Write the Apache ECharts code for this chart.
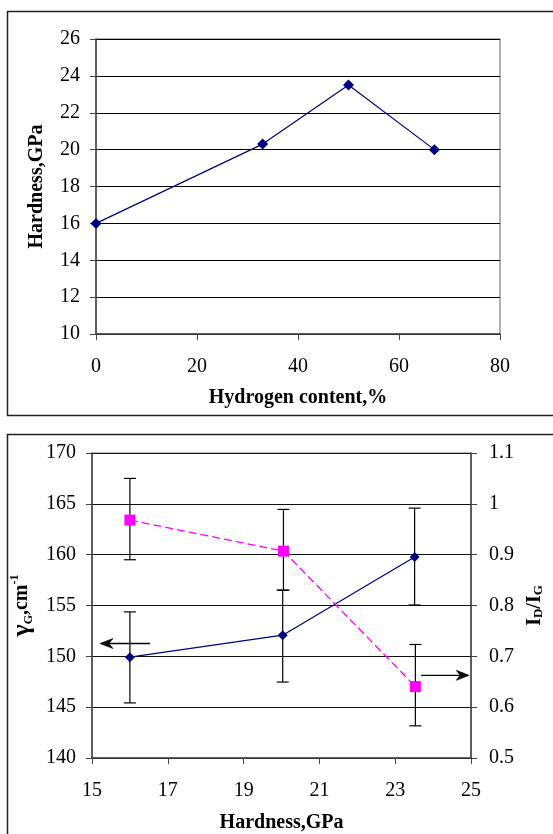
<!DOCTYPE html>
<html>
<head>
<meta charset="utf-8">
<script src="https://cdn.jsdelivr.net/npm/echarts@6/dist/echarts.min.js"></script>
<style>
html,body{margin:0;padding:0;background:#fff;}
#chart{width:553px;height:834px;}
</style>
</head>
<body>
<div id="chart"></div>
<script>
// ---- Top chart data ----
const hydrogenContent = [0, 33, 50, 67];
const hardnessTop = [16, 20.3, 23.5, 20];
const topXTicks = [0, 20, 40, 60, 80];
const topYTicks = [10, 12, 14, 16, 18, 20, 22, 24, 26];

// ---- Bottom chart data ----
const hardnessGamma = [16, 20.03, 23.51];
const gammaG = [149.92, 152.08, 159.76];
const gammaLow = [145.42, 147.47, 155.05];
const gammaHigh = [154.37, 156.52, 164.58];

const hardnessRatio = [16, 20.05, 23.53];
const idig = [0.968, 0.907, 0.6405];
const idigLow = [0.890, 0.830, 0.5633];
const idigHigh = [1.050, 0.989, 0.7233];

const bottomXTicks = [15, 17, 19, 21, 23, 25];
const leftYTicks = [140, 145, 150, 155, 160, 165, 170];
const rightYTicks = [0.5, 0.6, 0.7, 0.8, 0.9, 1, 1.1];

// annotation arrows [xStart(tail), xEnd(head), y]
const leftArrow = [16.53, 15.21, 151.26];
const rightArrow = [23.68, 24.95, 0.6626];

const FONT = 'Liberation Serif';
const chart = echarts.init(document.getElementById('chart'));

function errData(xs, lo, hi) { return xs.map((x, i) => [x, lo[i], hi[i]]); }

function errRender(params, api) {
  const x = api.value(0);
  const p1 = api.coord([x, api.value(1)]);
  const p2 = api.coord([x, api.value(2)]);
  const w = 6;
  const st = { stroke: '#000', lineWidth: 1.2 };
  return {
    type: 'group',
    children: [
      { type: 'line', shape: { x1: p1[0], y1: p1[1], x2: p2[0], y2: p2[1] }, style: st },
      { type: 'line', shape: { x1: p1[0] - w, y1: p1[1], x2: p1[0] + w, y2: p1[1] }, style: st },
      { type: 'line', shape: { x1: p2[0] - w, y1: p2[1], x2: p2[0] + w, y2: p2[1] }, style: st }
    ]
  };
}

function arrowRender(params, api) {
  const y = api.value(2);
  const a = api.coord([api.value(0), y]);
  const b = api.coord([api.value(1), y]);
  const dir = b[0] > a[0] ? 1 : -1;
  const L = 13, H = 5, N = 9;
  return {
    type: 'group',
    children: [
      { type: 'line', shape: { x1: a[0], y1: a[1], x2: b[0] - dir * 4, y2: b[1] }, style: { stroke: '#000', lineWidth: 1.4 } },
      { type: 'polygon', shape: { points: [[b[0], b[1]], [b[0] - dir * L, b[1] - H], [b[0] - dir * N, b[1]], [b[0] - dir * L, b[1] + H]] }, style: { fill: '#000', stroke: '#000', lineWidth: 0.6 } }
    ]
  };
}

const tickLabel = { fontFamily: FONT, fontSize: 20, color: '#000' };
const axisTitle = { fontFamily: FONT, fontSize: 20, fontWeight: 'bold', color: '#000' };

const option = {
  animation: false,
  backgroundColor: '#fff',
  graphic: [
    { type: 'rect', shape: { x: 7.5, y: 11.5, width: 600, height: 404 }, style: { fill: 'none', stroke: '#222', lineWidth: 1.5 }, z: 0 },
    { type: 'rect', shape: { x: 7.5, y: 434.5, width: 600, height: 500 }, style: { fill: 'none', stroke: '#222', lineWidth: 1.5 }, z: 0 }
  ],
  grid: [
    { left: 96, top: 39, width: 404, height: 295, show: true, borderColor: '#999', borderWidth: 1.5, backgroundColor: 'transparent' },
    { left: 92, top: 453, width: 388, height: 306, show: true, borderColor: '#777', borderWidth: 1.2, backgroundColor: 'transparent' }
  ],
  xAxis: [
    {
      gridIndex: 0, type: 'value', min: topXTicks[0], max: topXTicks[topXTicks.length - 1], interval: 20,
      axisLine: { show: true, onZero: false, lineStyle: { color: '#444', width: 1.5 } },
      axisTick: { show: true, length: 6, lineStyle: { color: '#444' } },
      axisLabel: Object.assign({ margin: 23 }, tickLabel),
      splitLine: { show: false },
      name: 'Hydrogen content,%', nameLocation: 'middle', nameGap: 54, nameTextStyle: axisTitle
    },
    {
      gridIndex: 1, type: 'value', min: bottomXTicks[0], max: bottomXTicks[bottomXTicks.length - 1], interval: 2,
      axisLine: { show: true, onZero: false, lineStyle: { color: '#444', width: 1.5 } },
      axisTick: { show: true, length: 6, lineStyle: { color: '#444' } },
      axisLabel: Object.assign({ margin: 23 }, tickLabel),
      splitLine: { show: false },
      name: 'Hardness,GPa', nameLocation: 'middle', nameGap: 55, nameTextStyle: axisTitle
    }
  ],
  yAxis: [
    {
      gridIndex: 0, type: 'value', min: topYTicks[0], max: topYTicks[topYTicks.length - 1], interval: 2,
      axisLine: { show: true, onZero: false, lineStyle: { color: '#444', width: 1.5 } },
      axisTick: { show: true, length: 6, lineStyle: { color: '#444' } },
      axisLabel: Object.assign({ margin: 16 }, tickLabel),
      splitLine: { show: true, lineStyle: { color: '#000', width: 1 } },
      name: 'Hardness,GPa', nameLocation: 'middle', nameGap: 49, nameTextStyle: axisTitle
    },
    {
      gridIndex: 1, type: 'value', min: leftYTicks[0], max: leftYTicks[leftYTicks.length - 1], interval: 5,
      axisLine: { show: true, onZero: false, lineStyle: { color: '#444', width: 1.5 } },
      axisTick: { show: true, length: 6, lineStyle: { color: '#444' } },
      axisLabel: Object.assign({ margin: 16 }, tickLabel),
      splitLine: { show: true, lineStyle: { color: '#111', width: 1 } },
      name: '{g|γ}{s|G}{b|,cm}{sup|-1}', nameLocation: 'middle', nameGap: 44,
      nameTextStyle: {
        fontFamily: FONT, fontWeight: 'bold', color: '#000',
        rich: {
          g: { fontFamily: FONT, fontSize: 26, fontWeight: 'bold', color: '#000' },
          s: { fontFamily: FONT, fontSize: 12, fontWeight: 'bold', color: '#000', verticalAlign: 'bottom', padding: [8, 0, 0, 0] },
          b: { fontFamily: FONT, fontSize: 20, fontWeight: 'bold', color: '#000' },
          sup: { fontFamily: FONT, fontSize: 12, fontWeight: 'bold', color: '#000', verticalAlign: 'top', padding: [0, 0, 10, 0] }
        }
      }
    },
    {
      gridIndex: 1, type: 'value', position: 'right', min: rightYTicks[0], max: rightYTicks[rightYTicks.length - 1], interval: 0.1,
      axisLine: { show: true, onZero: false, lineStyle: { color: '#444', width: 1.5 } },
      axisTick: { show: true, length: 6, lineStyle: { color: '#444' } },
      axisLabel: Object.assign({ margin: 18, formatter: v => String(+v.toFixed(1)) }, tickLabel),
      splitLine: { show: false },
      name: '{b|I}{s|D}{b|/I}{s|G}', nameLocation: 'middle', nameGap: 50, nameRotate: 90,
      nameTextStyle: {
        fontFamily: FONT, fontWeight: 'bold', color: '#000',
        rich: {
          b: { fontFamily: FONT, fontSize: 20, fontWeight: 'bold', color: '#000' },
          s: { fontFamily: FONT, fontSize: 13, fontWeight: 'bold', color: '#000', verticalAlign: 'bottom', padding: [6, 0, 0, 0] }
        }
      }
    }
  ],
  series: [
    {
      type: 'line', xAxisIndex: 0, yAxisIndex: 0,
      data: hydrogenContent.map((x, i) => [x, hardnessTop[i]]),
      symbol: 'diamond', symbolSize: 11,
      itemStyle: { color: '#000080' },
      lineStyle: { color: '#000080', width: 1.2 },
      z: 5
    },
    {
      type: 'custom', xAxisIndex: 1, yAxisIndex: 1,
      data: errData(hardnessGamma, gammaLow, gammaHigh),
      renderItem: errRender, z: 3, silent: true
    },
    {
      type: 'custom', xAxisIndex: 1, yAxisIndex: 2,
      data: errData(hardnessRatio, idigLow, idigHigh),
      renderItem: errRender, z: 3, silent: true
    },
    {
      type: 'line', xAxisIndex: 1, yAxisIndex: 1,
      data: hardnessGamma.map((x, i) => [x, gammaG[i]]),
      symbol: 'diamond', symbolSize: 10,
      itemStyle: { color: '#000080' },
      lineStyle: { color: '#000080', width: 1.2 },
      z: 5
    },
    {
      type: 'line', xAxisIndex: 1, yAxisIndex: 2,
      data: hardnessRatio.map((x, i) => [x, idig[i]]),
      symbol: 'rect', symbolSize: 11,
      itemStyle: { color: '#FF00FF' },
      lineStyle: { color: '#FF00FF', width: 1.3, type: [8, 4] },
      z: 6
    },
    {
      type: 'custom', xAxisIndex: 1, yAxisIndex: 1,
      data: [leftArrow], renderItem: arrowRender, z: 7, silent: true
    },
    {
      type: 'custom', xAxisIndex: 1, yAxisIndex: 2,
      data: [rightArrow], renderItem: arrowRender, z: 7, silent: true
    }
  ]
};
chart.setOption(option);
</script>
</body>
</html>
